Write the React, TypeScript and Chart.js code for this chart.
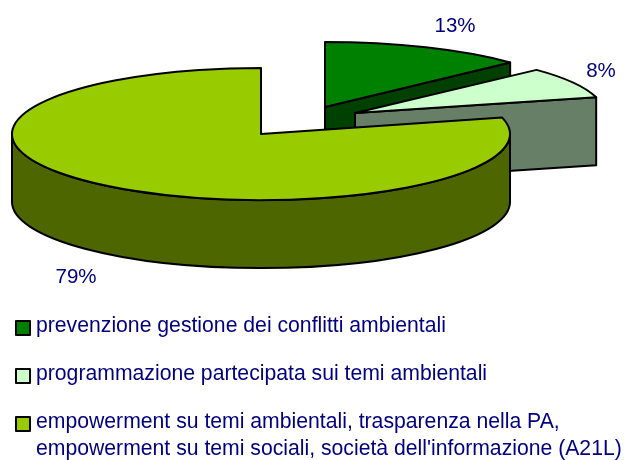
import React, { useEffect, useRef } from "react";
import { Chart, registerables } from "chart.js";

Chart.register(...registerables);

const categories = [
  "prevenzione gestione dei conflitti ambientali",
  "programmazione partecipata sui temi ambientali",
  "empowerment su temi ambientali, trasparenza nella PA,\nempowerment su temi sociali, società dell'informazione (A21L)",
];
const values = [13, 8, 79];
const topColors = ["#008000", "#CCFFCC", "#99CC00"];
const wallColors = ["#004000", "#667F66", "#4D6600"];

// Projection of each slice's top face: centre and ellipse radii
const faces = [
  { cx: 325, cy: 107, rx: 254, ry: 65 },
  { cx: 355, cy: 113, rx: 249, ry: 63 },
  { cx: 261, cy: 134, rx: 249, ry: 66 },
];
const DEPTH = 68;
const labelPos = [
  { x: 455, y: 32 },
  { x: 601, y: 77 },
  { x: 76, y: 283 },
];
const legendRows = [332, 380, 428];
const LEGEND_LINE = 27;
const INK = "#000080";
const LEGEND_FONT = '21.2px "Liberation Sans"';
const LABEL_FONT = '20.5px "Liberation Sans"';

const pie3d = {
  id: "pie3d",
  beforeDatasetsDraw(chart: any) {
    const ctx = chart.ctx as CanvasRenderingContext2D;
    const arcs = chart.getDatasetMeta(0).data as any[];
    ctx.lineWidth = 2;
    ctx.strokeStyle = "#000";
    ctx.lineJoin = "round";
    arcs.forEach((el, i) => {
      const f = faces[i];
      const { startAngle: a0, endAngle: a1, outerRadius: R, x, y } = el;
      const px = (a: number) => f.cx + f.rx * Math.cos(a);
      const py = (a: number) => f.cy + f.ry * Math.sin(a);

      // radial cut face at the end of the slice (only when it faces the viewer)
      if (Math.sin(a1) < 0 && Math.cos(a1) > 0) {
        ctx.beginPath();
        ctx.moveTo(f.cx, f.cy);
        ctx.lineTo(px(a1), py(a1));
        ctx.lineTo(px(a1), py(a1) + DEPTH);
        ctx.lineTo(f.cx, f.cy + DEPTH);
        ctx.closePath();
        ctx.fillStyle = wallColors[i];
        ctx.fill();
        ctx.stroke();
      }

      // outer curved wall, on the front half of the ellipse
      const from = Math.max(a0, 0);
      const to = Math.min(a1, Math.PI);
      if (to > from) {
        ctx.beginPath();
        ctx.ellipse(f.cx, f.cy, f.rx, f.ry, 0, from, to);
        ctx.ellipse(f.cx, f.cy + DEPTH, f.rx, f.ry, 0, to, from, true);
        ctx.closePath();
        ctx.fillStyle = wallColors[i];
        ctx.fill();
        ctx.stroke();
      }

      // top face: the library's own arc element, projected
      ctx.save();
      ctx.translate(f.cx, f.cy);
      ctx.scale(f.rx / R, f.ry / R);
      ctx.translate(-x, -y);
      el.draw(ctx);
      ctx.restore();

      ctx.beginPath();
      ctx.moveTo(f.cx, f.cy);
      ctx.ellipse(f.cx, f.cy, f.rx, f.ry, 0, a0, a1);
      ctx.closePath();
      ctx.stroke();
    });
    return false;
  },
  afterDraw(chart: any) {
    const ctx = chart.ctx as CanvasRenderingContext2D;
    ctx.save();
    ctx.fillStyle = INK;
    ctx.textBaseline = "alphabetic";
    ctx.textAlign = "center";
    ctx.font = LABEL_FONT;
    values.forEach((v, i) => ctx.fillText(`${v}%`, labelPos[i].x, labelPos[i].y));

    ctx.textAlign = "left";
    ctx.font = LEGEND_FONT;
    categories.forEach((c, i) => {
      const base = legendRows[i];
      ctx.fillStyle = topColors[i];
      ctx.strokeStyle = "#000";
      ctx.lineWidth = 2;
      ctx.fillRect(16, base - 11, 14, 14);
      ctx.strokeRect(16, base - 11, 14, 14);
      ctx.fillStyle = INK;
      c.split("\n").forEach((line, k) => ctx.fillText(line, 36, base + k * LEGEND_LINE));
    });
    ctx.restore();
  },
};

export default function App() {
  const ref = useRef<HTMLCanvasElement>(null);
  useEffect(() => {
    const chart = new Chart(ref.current!, {
      type: "pie",
      data: {
        labels: categories,
        datasets: [
          { data: values, backgroundColor: topColors, borderWidth: 0 },
        ],
      },
      options: {
        animation: false,
        responsive: false,
        plugins: { legend: { display: false }, tooltip: { enabled: false } },
      },
      plugins: [pie3d],
    } as any);
    return () => chart.destroy();
  }, []);
  return (
    <div style={{ position: "fixed", left: 0, top: 0, width: 628, height: 460, background: "#fff" }}>
      <canvas ref={ref} width={628} height={460} style={{ display: "block" }} />
    </div>
  );
}
